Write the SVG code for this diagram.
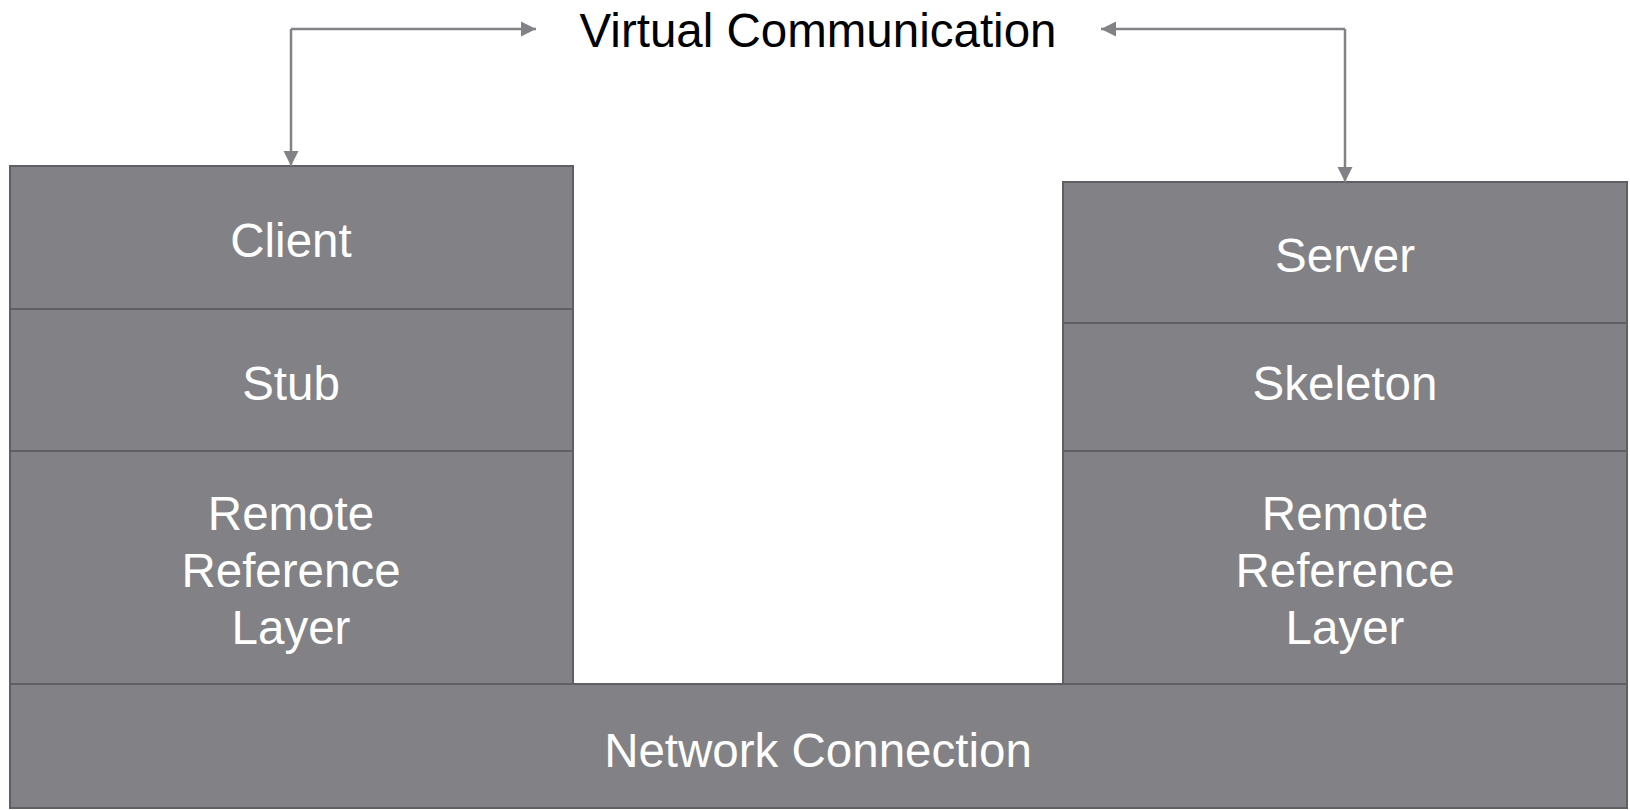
<svg xmlns="http://www.w3.org/2000/svg" width="1630" height="810" viewBox="0 0 1630 810">
  <style>
    .layer { fill: #818186; stroke: #5f5f64; stroke-width: 2; }
    .lbl { font-family: "Liberation Sans", Arial, Helvetica, sans-serif; font-size: 47.5px; fill: #ffffff; text-anchor: middle; }
    .title { font-family: "Liberation Sans", Arial, Helvetica, sans-serif; font-size: 47.5px; fill: #000000; text-anchor: middle; }
    .conn { fill: none; stroke: #818186; stroke-width: 2.5; }
  </style>
  <defs>
    <marker id="arrow" viewBox="0 0 10 10" refX="10" refY="5" markerWidth="6" markerHeight="6.4" markerUnits="strokeWidth" orient="auto">
      <path d="M0,0 L10,5 L0,10 Z" fill="#818186"/>
    </marker>
  </defs>
  <rect width="1630" height="810" fill="#ffffff"/>

  <!-- client side stack -->
  <g id="client">
    <rect class="layer" x="10" y="166" width="563" height="143"/>
    <text class="lbl" x="291" y="257">Client</text>
  </g>
  <g id="stub">
    <rect class="layer" x="10" y="309" width="563" height="142"/>
    <text class="lbl" x="291" y="400">Stub</text>
  </g>
  <g id="client-rrl">
    <rect class="layer" x="10" y="451" width="563" height="233"/>
    <text class="lbl" x="291" y="530">Remote</text>
    <text class="lbl" x="291" y="587">Reference</text>
    <text class="lbl" x="291" y="644">Layer</text>
  </g>

  <!-- server side stack -->
  <g id="server">
    <rect class="layer" x="1063" y="182" width="564" height="141"/>
    <text class="lbl" x="1345" y="272">Server</text>
  </g>
  <g id="skeleton">
    <rect class="layer" x="1063" y="323" width="564" height="128"/>
    <text class="lbl" x="1345" y="400">Skeleton</text>
  </g>
  <g id="server-rrl">
    <rect class="layer" x="1063" y="451" width="564" height="233"/>
    <text class="lbl" x="1345" y="530">Remote</text>
    <text class="lbl" x="1345" y="587">Reference</text>
    <text class="lbl" x="1345" y="644">Layer</text>
  </g>

  <!-- shared transport -->
  <g id="network">
    <rect class="layer" x="10" y="684" width="1617" height="124"/>
    <text class="lbl" x="818" y="767">Network Connection</text>
  </g>

  <g id="virtual">
    <text class="title" x="818" y="47">Virtual Communication</text>
  </g>

  <!-- connectors -->
  <g id="connectors">
    <path class="conn" d="M291,29 L536,29" marker-end="url(#arrow)"/>
    <path class="conn" d="M291,29 L291,166" marker-end="url(#arrow)"/>
    <path class="conn" d="M1345,29 L1101,29" marker-end="url(#arrow)"/>
    <path class="conn" d="M1345,29 L1345,182" marker-end="url(#arrow)"/>
  </g>
</svg>
